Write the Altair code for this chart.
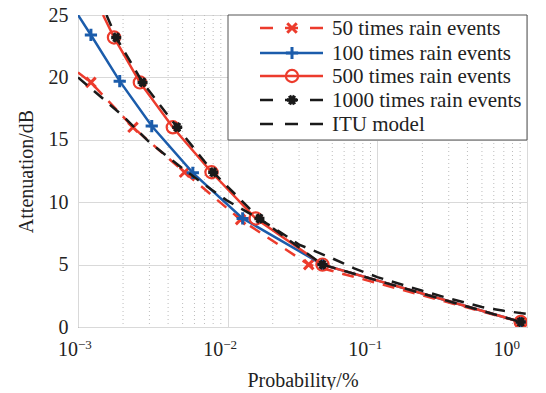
import altair as alt
import pandas as pd

# ---------------- data ----------------
x50 = [0.001, 0.00122, 0.00233, 0.00515, 0.0122, 0.0348, 0.908]
y50 = [20.4, 19.6, 16.0, 12.4, 8.6, 5.0, 0.4]
m50 = [False, True, True, True, True, True, True]

x100 = [0.001, 0.00122, 0.0019, 0.00311, 0.00585, 0.0126, 0.043, 0.908]
y100 = [25.0, 23.4, 19.7, 16.1, 12.35, 8.7, 5.0, 0.4]
m100 = [False, True, True, True, True, True, True, True]

x500 = [0.00147, 0.00174, 0.00259, 0.0043, 0.0078, 0.0154, 0.043, 0.908]
y500 = [25.0, 23.2, 19.6, 16.0, 12.4, 8.7, 5.0, 0.4]
m500 = [False, True, True, True, True, True, True, True]

x1000 = [0.00155, 0.0018, 0.0027, 0.0046, 0.0080, 0.0163, 0.043, 0.908]
y1000 = [25.0, 23.2, 19.6, 16.0, 12.4, 8.7, 5.0, 0.4]
m1000 = [False, True, True, True, True, True, True, True]

xitu = [0.001, 0.0015, 0.002, 0.003, 0.005, 0.007, 0.01, 0.015, 0.02, 0.03,
        0.05, 0.07, 0.1, 0.2, 0.3, 0.5, 0.7, 1.0]
yitu = [20.0, 18.2, 16.9, 14.8, 12.7, 11.4, 10.1, 8.9, 8.0, 6.6,
        5.5, 4.7, 4.0, 2.9, 2.3, 1.6, 1.3, 1.05]

series_names = ["50 times rain events", "100 times rain events",
                "500 times rain events", "1000 times rain events", "ITU model"]

x_decades = [0.001, 0.01, 0.1, 1.0]
x_exponents = [-3, -2, -1, 0]
x_exp_text = ["\u22123", "\u22122", "\u22121", "0"]
x_minor = [m * d for d in [0.001, 0.01, 0.1] for m in range(2, 10)]
y_ticks = [0, 5, 10, 15, 20, 25]

# ---------------- styling ----------------
W, H = 449, 312
FONT = "Liberation Serif"
RED = "#EC3B2C"
BLUE = "#1B5CAB"
BLACK = "#1a1a1a"
DASH = [12, 9]

P_X = "M-1,-1L1,1M-1,1L1,-1"
P_PLUS = "M-1,0L1,0M0,-1L0,1"
P_AST = "M-1,0L1,0M-0.5,-0.866L0.5,0.866M-0.5,0.866L0.5,-0.866"

xscale = alt.Scale(type="log", domain=[0.001, 1])
yscale = alt.Scale(domain=[0, 25])

xaxis = alt.Axis(values=x_decades, grid=True, gridColor="#d9d9d9", labels=False,
                 ticks=False, domain=False, title="Probability/%",
                 titleFont=FONT, titleFontSize=20, titleFontWeight="normal",
                 titleColor="#222", titleBaseline="alphabetic", titleY=59)
yaxis = alt.Axis(values=y_ticks, grid=True, gridColor="#d9d9d9", ticks=False,
                 domain=False, labelFont=FONT, labelFontSize=20, labelColor="#222",
                 labelPadding=10, title="Attenuation/dB", titleFont=FONT,
                 titleFontSize=20, titleFontWeight="normal", titleColor="#222",
                 titleBaseline="alphabetic", titleX=-46, titleY=156)


def X(field="x"):
    return alt.X(f"{field}:Q", scale=xscale, axis=xaxis)


def Y(field="y"):
    return alt.Y(f"{field}:Q", scale=yscale, axis=yaxis)


layers = []

# minor dotted grid
minor_df = pd.DataFrame({"x": x_minor})
layers.append(alt.Chart(minor_df).mark_rule(color="#bdbdbd", strokeDash=[1, 3],
                                            strokeWidth=1).encode(x=X()))

specs = [
    (x50, y50, m50, RED, DASH, P_X, 3.0, 90),
    (x100, y100, m100, BLUE, None, P_PLUS, 3.0, 150),
    (x500, y500, m500, RED, None, "circle", 2.2, 150),
    (x1000, y1000, m1000, BLACK, DASH, P_AST, 3.5, 100),
    (xitu, yitu, None, BLACK, DASH, None, 0, 0),
]

for xs, ys, ms, col, dash, shape, sw, size in specs:
    df = pd.DataFrame({"x": xs, "y": ys})
    line_kw = dict(color=col, strokeWidth=2.5, clip=True)
    if dash:
        line_kw["strokeDash"] = dash
    layers.append(alt.Chart(df).mark_line(**line_kw).encode(x=X(), y=Y()))
    if shape:
        mdf = pd.DataFrame({"x": [a for a, k in zip(xs, ms) if k],
                            "y": [b for b, k in zip(ys, ms) if k]})
        layers.append(alt.Chart(mdf).mark_point(shape=shape, filled=False, stroke=col,
                                                strokeWidth=sw, size=size, opacity=1,
                                                clip=True)
                      .encode(x=X(), y=Y()))

# x-axis tick labels: "10" with superscript exponent
lab_df = pd.DataFrame({"e": x_exponents, "sup": x_exp_text})
lab_base = alt.Chart(lab_df).transform_calculate(xp="pow(10, -3 + (datum.e + 3) * 0.97)")
layers.append(lab_base.mark_text(align="right", baseline="alphabetic", font=FONT,
                                 fontSize=20, color="#222")
              .encode(x=X("xp"), y=alt.value(H + 29), text=alt.value("10")))
layers.append(lab_base.mark_text(align="left", baseline="alphabetic", font=FONT,
                                 fontSize=13, color="#222")
              .encode(x=X("xp"), y=alt.value(H + 22), text="sup:N"))

# legend box
box_df = pd.DataFrame({"k": [0]})
layers.append(alt.Chart(box_df).mark_rect(fill="white", stroke="#555", strokeWidth=1)
              .encode(x=alt.value(150), x2=alt.value(W), y=alt.value(0), y2=alt.value(125)))

LDASH = [13, 12]
row_y = [13, 38, 61, 85, 109]
for i, (name, spec) in enumerate(zip(series_names, specs)):
    xs, ys, ms, col, dash, shape, sw, size = spec
    ldf = pd.DataFrame({"name": [name]})
    rule_kw = dict(color=col, strokeWidth=2.5)
    if dash:
        rule_kw["strokeDash"] = LDASH
    yv = row_y[i]
    layers.append(alt.Chart(ldf).mark_rule(**rule_kw)
                  .encode(x=alt.value(182), x2=alt.value(245), y=alt.value(yv)))
    if shape:
        layers.append(alt.Chart(ldf).mark_point(shape=shape, filled=False, stroke=col,
                                                strokeWidth=sw, size=size, opacity=1)
                      .encode(x=alt.value(214), y=alt.value(yv)))
    layers.append(alt.Chart(ldf).mark_text(align="left", baseline="middle", font=FONT,
                                           fontSize=21, color="#222")
                  .encode(x=alt.value(254), y=alt.value(yv + 1), text="name:N"))

chart = alt.layer(*layers).properties(
    width=W, height=H,
    autosize=alt.AutoSizeParams(type="none"),
    padding={"left": 70, "top": 7, "right": 11, "bottom": 63},
    background="white",
).configure_view(stroke="#555", strokeWidth=1)

chart.save("out.html", embed_options={"renderer": "svg", "actions": False})
